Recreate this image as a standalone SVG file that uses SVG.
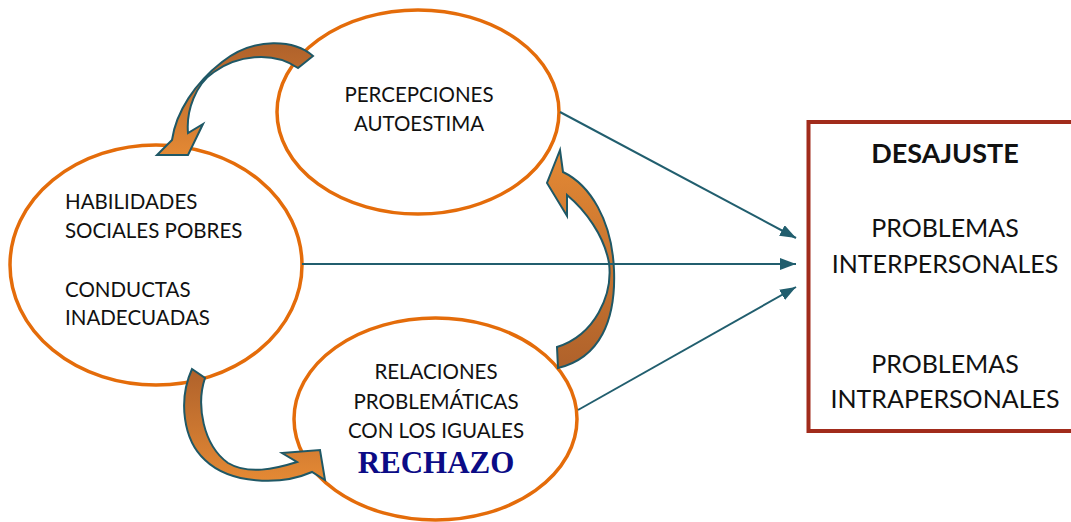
<svg xmlns="http://www.w3.org/2000/svg" width="1071" height="522" viewBox="0 0 1071 522">
  <style>
    .ell { fill: #ffffff; stroke: #E46C0A; stroke-width: 3.5; }
    .txt { font-family: Lato, "Liberation Sans", sans-serif; font-size: 20.5px; fill: #111111; }
    .mid { text-anchor: middle; }
    .box { fill: #ffffff; stroke: #A12B1B; stroke-width: 4; }
    .btxt { font-family: Lato, "Liberation Sans", sans-serif; font-size: 25px; fill: #111111; text-anchor: middle; }
    .head { font-size: 27px; font-weight: bold; }
    .conn { stroke: #215E6E; stroke-width: 2; fill: none; marker-end: url(#ah); }
    .carrow { stroke: #1F5866; stroke-width: 2; stroke-linejoin: miter; }
  </style>
  <defs>
    <marker id="ah" markerUnits="userSpaceOnUse" markerWidth="17" markerHeight="13" refX="16" refY="6" orient="auto">
      <path d="M0,0 L16,6 L0,12 Z" fill="#215E6E"/>
    </marker>
    <linearGradient id="g1" gradientUnits="userSpaceOnUse" x1="0" y1="45" x2="0" y2="155">
      <stop offset="0" stop-color="#B0622B"/>
      <stop offset="0.5" stop-color="#C97530"/>
      <stop offset="1" stop-color="#E48934"/>
    </linearGradient>
    <linearGradient id="g2" gradientUnits="userSpaceOnUse" x1="0" y1="365" x2="0" y2="152">
      <stop offset="0" stop-color="#B0622B"/>
      <stop offset="0.5" stop-color="#C97530"/>
      <stop offset="1" stop-color="#E48934"/>
    </linearGradient>
    <linearGradient id="g3" gradientUnits="userSpaceOnUse" x1="0" y1="370" x2="0" y2="480">
      <stop offset="0" stop-color="#B0622B"/>
      <stop offset="0.5" stop-color="#C97530"/>
      <stop offset="1" stop-color="#E48934"/>
    </linearGradient>
  </defs>

  <rect width="1071" height="522" fill="#ffffff"/>

  <g id="node-percepciones">
    <ellipse class="ell" cx="418" cy="112" rx="141" ry="102"/>
    <text class="txt mid" x="419" y="102">PERCEPCIONES</text>
    <text class="txt mid" x="419" y="131">AUTOESTIMA</text>
  </g>

  <g id="node-habilidades">
    <ellipse class="ell" cx="156" cy="265" rx="146" ry="120"/>
    <text class="txt" x="65" y="209">HABILIDADES</text>
    <text class="txt" x="65" y="238">SOCIALES POBRES</text>
    <text class="txt" x="65" y="297">CONDUCTAS</text>
    <text class="txt" x="65" y="325">INADECUADAS</text>
  </g>

  <g id="node-relaciones">
    <ellipse class="ell" cx="435.5" cy="419" rx="141.5" ry="101"/>
    <text class="txt mid" x="436" y="379">RELACIONES</text>
    <text class="txt mid" x="436" y="409">PROBLEMÁTICAS</text>
    <text class="txt mid" x="436" y="438">CON LOS IGUALES</text>
    <text class="mid" x="436" y="473" font-family="'Liberation Serif', 'Times New Roman', serif" font-weight="bold" font-size="31" fill="#0B0B86">RECHAZO</text>
  </g>

  <g id="node-desajuste">
    <rect class="box" x="808.5" y="122" width="280" height="309"/>
    <text class="btxt head" x="945" y="163">DESAJUSTE</text>
    <text class="btxt" x="945" y="237">PROBLEMAS</text>
    <text class="btxt" x="945" y="273">INTERPERSONALES</text>
    <text class="btxt" x="945" y="373">PROBLEMAS</text>
    <text class="btxt" x="945" y="408">INTRAPERSONALES</text>
  </g>

  <g id="cycle-arrows">
    <path class="carrow" fill="url(#g1)" d="M313,56 C295,40 255,36 222,62 C195,83 176,112 172,140 L157,155 L188,155 L203,124 L188,133 C186,110 196,84 214,72 C236,56 272,50 298,68 Z"/>
    <path class="carrow" fill="url(#g2)" d="M560,150 L547,183 L567,216 L567,195 C585,210 604,235 609,263 C613,295 595,335 557,347 L558,368 C600,358 616,320 614,270 C612,220 590,185 563,172 Z"/>
    <path class="carrow" fill="url(#g3)" d="M192,369 L205,378 C196,405 203,445 228,463 C248,475 275,469 297,462 L282,453 L320,450 L325,480 L312,472 C280,486 230,484 205,460 C183,440 178,400 192,369 Z"/>
  </g>

  <g id="connectors">
    <line class="conn" x1="560" y1="112" x2="796" y2="238"/>
    <line class="conn" x1="302" y1="264" x2="796" y2="264"/>
    <line class="conn" x1="578" y1="410" x2="796" y2="287"/>
  </g>
</svg>
